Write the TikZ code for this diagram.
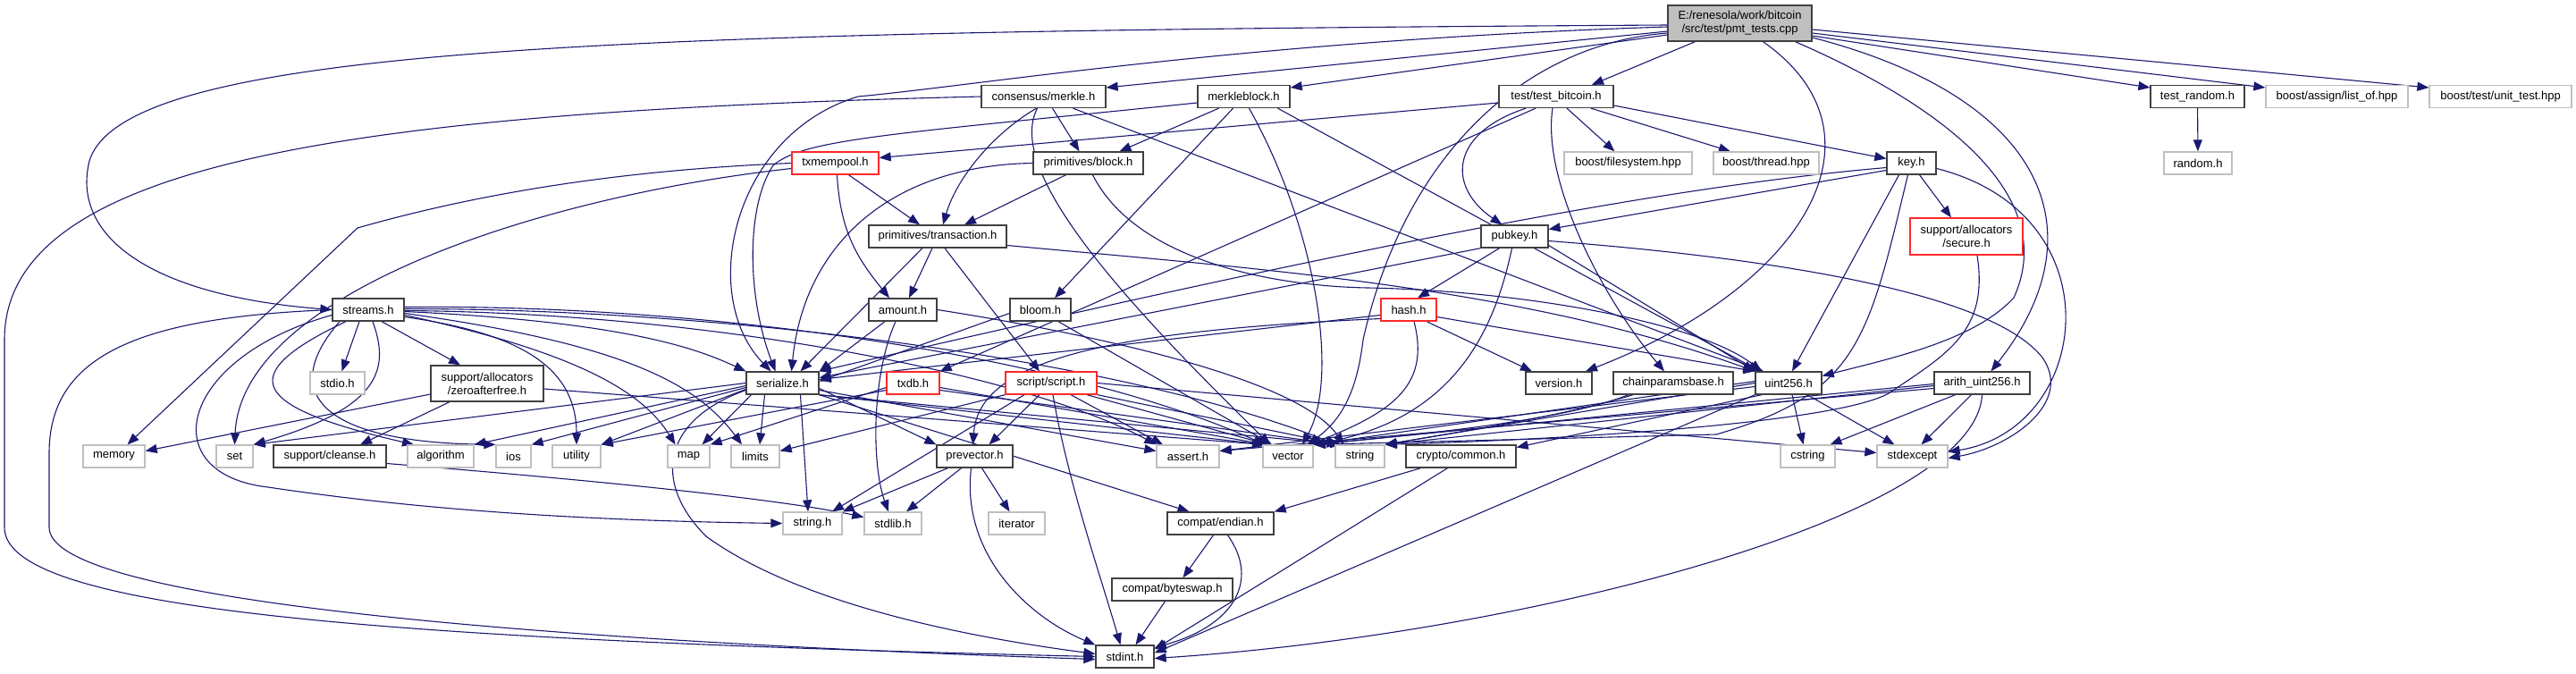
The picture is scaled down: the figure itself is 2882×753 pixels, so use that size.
\documentclass[tikz,border=0pt]{standalone}
\usepackage{fontspec}
\setmainfont{Liberation Sans}
\usepackage{tikz}
\usetikzlibrary{arrows.meta, positioning, backgrounds}
\definecolor{edgeblue}{RGB}{25,25,112}
\definecolor{boxgray}{RGB}{191,191,191}
\definecolor{boxdark}{RGB}{64,64,64}
\definecolor{boxred}{RGB}{255,40,40}

\begin{document}
\begin{tikzpicture}[x=1pt, y=-1pt, >={Triangle[length=13pt,width=10pt]},
    hdr/.style={draw=boxdark, line width=1.3pt, fill=white, minimum height=25pt, inner sep=0pt,
        font=\fontsize{13}{15}\selectfont, align=center},
    sys/.style={hdr, draw=boxgray},
    trunc/.style={hdr, draw=boxred},
    dep/.style={->, draw=edgeblue, line width=1.1pt}]
    \useasboundingbox (0,0) rectangle (2882,753);

    \node[hdr, fill=boxgray, minimum width=161pt, minimum height=40pt] (root) at (1946.5,26) {E:/renesola/work/bitcoin\\/src/test/pmt\_tests.cpp};

    \node[hdr, minimum width=139pt] (merkle) at (1167.5,108) {consensus/merkle.h};
    \node[hdr, minimum width=103pt] (mblock) at (1391.5,108) {merkleblock.h};
    \node[hdr, minimum width=128pt] (testbtc) at (1741,108) {test/test\_bitcoin.h};
    \node[hdr, minimum width=105pt] (testrand) at (2458.5,108) {test\_random.h};
    \node[sys, minimum width=159pt] (listof) at (2614.5,108) {boost/assign/list\_of.hpp};
    \node[sys, minimum width=159pt] (unittest) at (2797.5,108) {boost/test/unit\_test.hpp};

    \node[trunc, minimum width=97pt] (mempool) at (934.5,182.5) {txmempool.h};
    \node[hdr, minimum width=123pt] (block) at (1217.5,182.5) {primitives/block.h};
    \node[sys, minimum width=143pt] (fsys) at (1821.5,182.5) {boost/filesystem.hpp};
    \node[sys, minimum width=118pt] (thread) at (1976,182.5) {boost/thread.hpp};
    \node[hdr, minimum width=55pt] (key) at (2138.5,182.5) {key.h};
    \node[sys, minimum width=76pt] (random) at (2459,182.5) {random.h};

    \node[hdr, minimum width=154pt] (tx) at (1049,264.5) {primitives/transaction.h};
    \node[hdr, minimum width=75pt] (pubkey) at (1694.5,264.5) {pubkey.h};
    \node[trunc, minimum width=126pt, minimum height=41pt] (secure) at (2200,264.5) {support/allocators\\/secure.h};

    \node[hdr, minimum width=80pt] (streams) at (412,346.5) {streams.h};
    \node[hdr, minimum width=76pt] (amount) at (1010,346.5) {amount.h};
    \node[hdr, minimum width=68pt] (bloom) at (1164,346.5) {bloom.h};
    \node[trunc, minimum width=62pt] (hash) at (1576,346.5) {hash.h};

    \node[sys, minimum width=61pt] (stdio) at (377.5,428.5) {stdio.h};
    \node[hdr, minimum width=126pt, minimum height=40pt] (zeroafree) at (545,429) {support/allocators\\/zeroafterfree.h};
    \node[hdr, minimum width=81pt] (serialize) at (875.5,428.5) {serialize.h};
    \node[trunc, minimum width=59pt] (txdb) at (1021.5,428.5) {txdb.h};
    \node[trunc, minimum width=102pt] (script) at (1176,428.5) {script/script.h};
    \node[hdr, minimum width=74pt] (version) at (1744,428.5) {version.h};
    \node[hdr, minimum width=134pt] (chainbase) at (1872,428.5) {chainparamsbase.h};
    \node[hdr, minimum width=74pt] (uint) at (2001,428.5) {uint256.h};
    \node[hdr, minimum width=107pt] (arith) at (2217.5,428.5) {arith\_uint256.h};

    \node[sys, minimum width=69pt] (memory) at (127.5,510.5) {memory};
    \node[sys, minimum width=41pt] (set) at (262.5,510.5) {set};
    \node[hdr, minimum width=126pt] (cleanse) at (369,510.5) {support/cleanse.h};
    \node[sys, minimum width=74pt] (algo) at (493,510.5) {algorithm};
    \node[sys, minimum width=39pt] (ios) at (574.5,510.5) {ios};
    \node[sys, minimum width=54pt] (utility) at (645,510.5) {utility};
    \node[sys, minimum width=47pt] (map) at (770.5,510.5) {map};
    \node[sys, minimum width=54pt] (limits) at (845,510.5) {limits};
    \node[hdr, minimum width=85pt] (prevec) at (1090.5,510.5) {prevector.h};
    \node[sys, minimum width=70pt] (assert) at (1329,510.5) {assert.h};
    \node[sys, minimum width=56pt] (vector) at (1441,510.5) {vector};
    \node[sys, minimum width=55pt] (string) at (1521.5,510.5) {string};
    \node[hdr, minimum width=123pt] (common) at (1634.5,510.5) {crypto/common.h};
    \node[sys, minimum width=61pt] (cstring) at (2022.5,510.5) {cstring};
    \node[sys, minimum width=79pt] (stdexc) at (2139.5,510.5) {stdexcept};

    \node[sys, minimum width=66pt] (stringh) at (909,585.5) {string.h};
    \node[sys, minimum width=64pt] (stdlib) at (999,585.5) {stdlib.h};
    \node[sys, minimum width=63pt] (iter) at (1137.5,585.5) {iterator};
    \node[hdr, minimum width=119pt] (endian) at (1365.5,585.5) {compat/endian.h};
    \node[hdr, minimum width=135pt] (bswap) at (1311.5,659.5) {compat/byteswap.h};
    \node[hdr, minimum width=65pt] (stdint) at (1258.5,734.5) {stdint.h};

    \begin{scope}[on background layer]
    \draw[dep] ([yshift=-2pt]root.west) .. controls (700,35) and (140,50) .. (100,180) .. controls (80,260) and (160,330) .. (streams.west);
    \draw[dep] ([yshift=-4pt]root.west) .. controls (1400,45) and (1100,95) .. (960,108) .. controls (820,150) and (780,330) .. ([xshift=-13pt]serialize.north);
    \draw[dep] ([yshift=-9pt]root.west) -- ([yshift=10pt]merkle.east);
    \draw[dep] ([yshift=-13pt]root.west) -- ([yshift=10pt]mblock.east);
    \draw[dep] ([xshift=-50pt]root.south) -- ([xshift=40pt]testbtc.north);
    \draw[dep] ([yshift=-14pt]root.east) -- ([yshift=10pt]testrand.west);
    \draw[dep] ([yshift=-11pt]root.east) -- ([yshift=10pt]listof.west);
    \draw[dep] ([yshift=-7pt]root.east) -- ([yshift=10pt]unittest.west);
    \draw[dep] ([yshift=-11pt]root.west) .. controls (1700,50) and (1570,180) .. (1525,380) .. controls (1518,440) and (1500,470) .. ([xshift=22pt]vector.north);
    \draw[dep] ([xshift=26pt]root.south) .. controls (2120,150) and (2020,320) .. ([xshift=30pt]version.north);
    \draw[dep] ([xshift=62pt]root.south) .. controls (2200,130) and (2300,230) .. (2253,333) .. controls (2210,380) and (2120,400) .. ([yshift=8pt]uint.east);
    \draw[dep] ([yshift=-16pt]root.east) .. controls (2290,110) and (2350,260) .. ([xshift=10pt]arith.north);

    \draw[dep] (merkle.west) .. controls (400,125) and (5,180) .. (5,380) -- (5,590) .. controls (5,680) and (400,715) .. (stdint.west);
    \draw[dep] ([xshift=-8pt]merkle.south) .. controls (1110,150) and (1070,200) .. ([xshift=6pt]tx.north);
    \draw[dep] ([xshift=10pt]merkle.south) -- ([xshift=-10pt]block.north);
    \draw[dep] ([xshift=-7pt]merkle.south) .. controls (1125,190) and (1250,330) .. ([xshift=-20pt]vector.north);
    \draw[dep] ([xshift=33pt]merkle.south) -- ([xshift=-28pt]uint.north);

    \draw[dep] ([yshift=-7pt]mblock.west) .. controls (1000,150) and (900,155) .. (865,185) .. controls (835,230) and (835,330) .. ([xshift=-8pt]serialize.north);
    \draw[dep] ([xshift=-28pt]mblock.south) -- ([xshift=35pt]block.north);
    \draw[dep] ([xshift=-12pt]mblock.south) -- ([xshift=16pt]bloom.north);
    \draw[dep] ([xshift=6pt]mblock.south) .. controls (1470,250) and (1500,420) .. ([xshift=16pt]vector.north);
    \draw[dep] ([xshift=38pt]mblock.south) -- ([xshift=-32pt]uint.north);

    \draw[dep] ([yshift=-7pt]testbtc.west) -- ([yshift=6pt]mempool.east);
    \draw[dep] ([xshift=-23pt]testbtc.south) -- (txdb.north east);
    \draw[dep] ([xshift=-34pt]testbtc.south) .. controls (1620,150) and (1620,210) .. ([xshift=-14pt]pubkey.north);
    \draw[dep] ([xshift=-4pt]testbtc.south) .. controls (1725,200) and (1790,330) .. ([xshift=-10pt]chainbase.north);
    \draw[dep] ([xshift=12pt]testbtc.south) -- ([xshift=-15pt]fsys.north);
    \draw[dep] ([xshift=39pt]testbtc.south) -- ([xshift=-40pt]thread.north);
    \draw[dep] ([yshift=-10pt]testbtc.east) -- ([yshift=5pt]key.west);
    \draw[dep] (testrand) -- (random);

    \draw[dep] (mempool.west) .. controls (700,190) and (540,215) .. (400,255) -- ([xshift=15pt]memory.north);
    \draw[dep] ([yshift=-6pt]mempool.west) .. controls (600,220) and (270,330) .. (set.north);
    \draw[dep] ([xshift=15pt]mempool.south) -- ([xshift=-20pt]tx.north);
    \draw[dep] ([xshift=2pt]mempool.south) .. controls (940,260) and (960,290) .. ([xshift=-15pt]amount.north);

    \draw[dep] ([xshift=-25pt]block.south) -- ([xshift=30pt]tx.north);
    \draw[dep] (block.west) .. controls (1000,185) and (900,270) .. ([xshift=10pt]serialize.north);
    \draw[dep] ([xshift=5pt]block.south) .. controls (1270,290) and (1420,320) .. (1530,322) .. controls (1700,325) and (1900,360) .. ([xshift=-30pt]uint.north);

    \draw[dep] ([yshift=-8pt]key.west) -- ([yshift=8pt]pubkey.east);
    \draw[dep] ([yshift=-5pt]key.west) .. controls (1850,210) and (1500,280) .. (serialize.north east);
    \draw[dep] ([xshift=9pt]key.south) -- ([xshift=-17pt]secure.north);
    \draw[dep] ([xshift=-14pt]key.south) -- ([xshift=4pt]uint.north);
    \draw[dep] ([xshift=-4pt]key.south) .. controls (2090,380) and (2080,440) .. (1920,486) -- (vector.north east);
    \draw[dep] ([yshift=-6pt]key.east) .. controls (2370,240) and (2340,480) .. ([yshift=5pt]stdexc.east);
    \draw[dep] ([xshift=12pt]secure.south) .. controls (2225,370) and (2180,395) .. (2113,440) .. controls (2060,470) and (1800,490) .. (string.north east);

    \draw[dep] ([xshift=-17pt]pubkey.south) -- ([xshift=10pt]hash.north);
    \draw[dep] (pubkey.south west) -- ([yshift=6pt]serialize.east);
    \draw[dep] ([xshift=-3pt]pubkey.south) .. controls (1670,380) and (1620,470) .. (vector.north east);
    \draw[dep] ([yshift=-10pt]pubkey.east) -- (uint.north west);
    \draw[dep] ([yshift=-5pt]pubkey.east) .. controls (2000,290) and (2230,330) .. (2285,400) .. controls (2320,450) and (2250,500) .. ([yshift=-2pt]stdexc.east);

    \draw[dep] ([xshift=-6pt]tx.south) -- ([xshift=7pt]amount.north);
    \draw[dep] ([xshift=8pt]tx.south) -- ([xshift=-13pt]script.north);
    \draw[dep] ([xshift=-17pt]tx.south) -- ([xshift=20pt]serialize.north);
    \draw[dep] ([yshift=-10pt]tx.east) .. controls (1400,300) and (1700,320) .. (uint.north west);

    \draw[dep] ([xshift=-20pt]amount.south) -- (serialize.north east);
    \draw[dep] ([xshift=-8pt]amount.south) .. controls (975,420) and (975,520) .. ([xshift=-5pt]stdlib.north);
    \draw[dep] (amount.east) .. controls (1200,370) and (1450,420) .. ([xshift=-18pt]string.north);
    \draw[dep] ([yshift=-4pt]bloom.west) -- ([yshift=2pt]serialize.east);
    \draw[dep] ([xshift=20pt]bloom.south) -- ([xshift=-18pt]vector.north);

    \draw[dep] ([xshift=20pt]hash.south) -- ([xshift=-30pt]version.north);
    \draw[dep] ([yshift=-6pt]hash.west) -- ([yshift=4pt]serialize.east);
    \draw[dep] ([yshift=-8pt]hash.east) -- (uint.north west);
    \draw[dep] ([xshift=6pt]hash.south) .. controls (1600,430) and (1560,460) .. ([xshift=24pt]vector.north);
    \draw[dep] ([yshift=-10pt]hash.west) .. controls (1250,370) and (1095,400) .. ([xshift=-2pt]prevec.north);

    \draw[dep] ([xshift=-45pt]chainbase.south) .. controls (1750,465) and (1650,480) .. (string.north east);
    \draw[dep] ([xshift=-50pt]chainbase.south) .. controls (1750,470) and (1600,485) .. (vector.north east);

    \draw[dep] ([xshift=-30pt]uint.south) -- ([yshift=10pt]common.east);
    \draw[dep] ([xshift=4pt]uint.south) -- ([xshift=-5pt]cstring.north);
    \draw[dep] ([xshift=21pt]uint.south) -- ([xshift=-20pt]stdexc.north);
    \draw[dep] (uint.south west) -- ([yshift=4pt]stdint.east);
    \draw[dep] ([yshift=-4pt]uint.west) -- ([yshift=6pt]assert.east);
    \draw[dep] (uint.west) -- (string.north east);
    \draw[dep] ([yshift=2pt]uint.west) -- (vector.north east);

    \draw[dep] ([xshift=-30pt]arith.south) -- ([xshift=25pt]cstring.north);
    \draw[dep] ([xshift=-12pt]arith.south) -- ([xshift=10pt]stdexc.north);
    \draw[dep] (arith.south) .. controls (2210,580) and (1700,710) .. ([yshift=-2pt]stdint.east);
    \draw[dep] ([yshift=-6pt]arith.west) -- ([yshift=6pt]assert.east);
    \draw[dep] ([yshift=-3pt]arith.west) -- (string.north east);
    \draw[dep] ([yshift=-1pt]arith.west) -- (vector.north east);

    \draw[dep] ([xshift=-45pt]common.south) -- (endian.north east);
    \draw[dep] ([xshift=-15pt]common.south) -- ([yshift=8pt]stdint.east);
    \draw[dep] ([xshift=-8pt]endian.south) -- ([xshift=12pt]bswap.north);
    \draw[dep] ([xshift=8pt]endian.south) .. controls (1410,650) and (1380,700) .. ([yshift=10pt]stdint.east);
    \draw[dep] ([xshift=-8pt]bswap.south) -- ([xshift=12pt]stdint.north);

    \draw[dep] ([xshift=-15pt]prevec.south) -- ([xshift=15pt]stdlib.north);
    \draw[dep] ([xshift=8pt]prevec.south) -- ([xshift=-8pt]iter.north);
    \draw[dep] ([xshift=-4pt]prevec.south) .. controls (1075,620) and (1150,690) .. (stdint.north west);
    \draw[dep] ([xshift=-30pt]prevec.south) -- (stringh.north east);

    \draw[dep] ([xshift=-13pt]script.south) -- ([xshift=16pt]prevec.north);
    \draw[dep] ([xshift=2pt]script.south) .. controls (1195,540) and (1230,640) .. ([xshift=-5pt]stdint.north);
    \draw[dep] ([xshift=22pt]script.south) -- ([xshift=-28pt]assert.north);
    \draw[dep] ([xshift=40pt]script.south) -- ([xshift=-22pt]vector.north);
    \draw[dep] (script.south east) -- ([xshift=-22pt]string.north);
    \draw[dep] ([xshift=-30pt]script.south) -- ([xshift=22pt]stringh.north);
    \draw[dep] (script.south west) -- ([yshift=6pt]limits.east);
    \draw[dep] (script.east) -- ([yshift=4pt]stdexc.west);

    \draw[dep] ([yshift=-5pt]txdb.west) -- (map.north east);
    \draw[dep] ([yshift=-8pt]txdb.west) -- (utility.north east);
    \draw[dep] ([yshift=-5pt]txdb.east) -- ([xshift=-24pt]vector.north);
    \draw[dep] ([yshift=-8pt]txdb.east) -- ([xshift=-24pt]string.north);

    \draw[dep] (serialize.south east) -- ([xshift=-35pt]endian.north);
    \draw[dep] ([yshift=-3pt]serialize.west) -- (algo.north east);
    \draw[dep] ([yshift=-5pt]serialize.west) -- (ios.north east);
    \draw[dep] ([yshift=-7pt]serialize.west) -- (utility.north east);
    \draw[dep] (serialize.west) -- (set.north east);
    \draw[dep] ([yshift=-8pt]serialize.east) -- ([yshift=6pt]assert.west);
    \draw[dep] ([xshift=-20pt]serialize.south) -- ([xshift=5pt]limits.north);
    \draw[dep] ([xshift=-35pt]serialize.south) -- ([xshift=15pt]map.north);
    \draw[dep] ([yshift=-8pt]serialize.west) .. controls (740,470) and (730,540) .. (790,600) .. controls (900,680) and (1100,715) .. ([yshift=3pt]stdint.west);
    \draw[dep] (serialize.south east) -- ([xshift=-20pt]string.north);
    \draw[dep] ([xshift=20pt]serialize.south) -- ([xshift=-5pt]stringh.north);
    \draw[dep] (serialize.south east) -- ([xshift=-25pt]vector.north);
    \draw[dep] ([yshift=-6pt]serialize.east) -- (prevec.north west);

    \draw[dep] ([xshift=15pt]streams.south) -- ([xshift=-30pt]zeroafree.north);
    \draw[dep] ([yshift=-2pt]streams.east) .. controls (700,360) and (780,390) .. (serialize.north west);
    \draw[dep] ([xshift=-10pt]streams.south) -- ([xshift=5pt]stdio.north);
    \draw[dep] ([xshift=-25pt]streams.south) .. controls (260,420) and (280,455) .. ([xshift=-30pt]algo.north);
    \draw[dep] ([xshift=-32pt]streams.south) .. controls (310,440) and (360,495) .. (ios.north west);
    \draw[dep] ([yshift=-4pt]streams.east) .. controls (700,385) and (780,430) .. ([xshift=-15pt]limits.north);
    \draw[dep] ([yshift=-6pt]streams.east) .. controls (650,395) and (720,440) .. ([xshift=-15pt]map.north);
    \draw[dep] ([xshift=5pt]streams.south) .. controls (435,410) and (430,455) .. (set.north east);
    \draw[dep] (streams.west) .. controls (150,355) and (55,400) .. (55,507) -- (55,590) .. controls (55,680) and (700,720) .. ([yshift=-3pt]stdint.west);
    \draw[dep] ([yshift=-6pt]streams.west) .. controls (200,400) and (170,530) .. (300,545) .. controls (500,575) and (700,583) .. (stringh.west);
    \draw[dep] ([yshift=-8pt]streams.east) .. controls (560,370) and (645,400) .. (utility.north);
    \draw[dep] ([yshift=3pt]streams.east) .. controls (800,340) and (1200,400) .. ([xshift=-26pt]vector.north);
    \draw[dep] ([yshift=1pt]streams.east) .. controls (800,345) and (1250,400) .. ([xshift=-26pt]string.north);
    \draw[dep] ([yshift=-1pt]streams.east) .. controls (800,350) and (1150,420) .. (assert.north west);

    \draw[dep] ([yshift=-12pt]zeroafree.west) -- ([yshift=6pt]memory.east);
    \draw[dep] ([xshift=-42pt]zeroafree.south) -- ([xshift=34pt]cleanse.north);
    \draw[dep] ([yshift=-6pt]zeroafree.east) -- ([xshift=-27pt]vector.north);
    \draw[dep] ([yshift=-8pt]cleanse.east) .. controls (700,540) and (880,560) .. ([yshift=7pt]stdlib.west);
    \end{scope}
\end{tikzpicture}
\end{document}
